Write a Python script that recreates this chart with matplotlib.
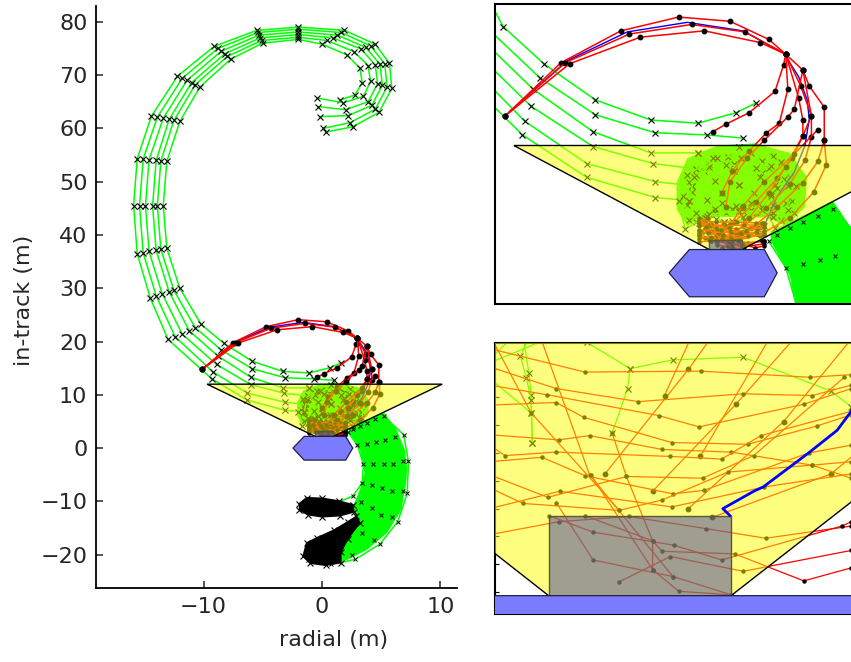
import matplotlib
matplotlib.use("Agg")
import matplotlib.pyplot as plt
from matplotlib.patches import Polygon, Rectangle
from matplotlib.ticker import MultipleLocator

plt.rcParams["font.family"] = ["DejaVu Sans"]

# ---------------- axis settings ----------------
x_ticks = [-10, 0, 10]
y_ticks = [-20, -10, 0, 10, 20, 30, 40, 50, 60, 70, 80]
x_label = "radial (m)"
y_label = "in-track (m)"

# ---------------- geometry ----------------
cone_x = [-9.7, 10.15, 0.19]
cone_y = [12.0, 12.0, 1.38]
hex_x = [-2.45, -1.5, 2.0, 2.6, 2.0, -1.5]
hex_y = [0.0, 2.2, 2.2, 0.0, -2.25, -2.25]
port_x = [-0.57, 0.96]
port_y = [2.2, 3.12]

# ---------------- green spiral trajectories (x markers) ----------------
spiral_0 = [(1.5,65.3),(2.8,66.3),(3.4,68.6),(3.2,71.3),(2.1,73.8),(0.0,75.8),(-2.0,76.7),(-5.0,76.0),(-7.7,73.0),(-10.3,67.8),(-12.0,61.3),(-13.1,53.8),(-13.4,45.5),(-13.1,37.5),(-12.0,30.0),(-10.2,23.2),(-8.3,19.7),(-5.9,16.3),(-3.3,14.4),(-1.1,14.1),(0.7,15.1),(1.6,16.0)]
spiral_1 = [(-0.4,65.7),(1.8,64.8),(3.5,66.0),(4.1,68.8),(3.9,71.8),(2.7,74.4),(0.4,76.5),(-2.0,77.1),(-5.1,76.5),(-8.0,73.5),(-10.7,68.2),(-12.5,61.5),(-13.6,53.9),(-13.9,45.5),(-13.6,37.3),(-12.5,29.6),(-10.7,22.6),(-8.5,18.4),(-5.9,14.9),(-3.1,13.2),(-0.7,13.0),(1.0,12.7)]
spiral_2 = [(-0.3,64.1),(2.0,63.5),(3.9,65.0),(4.7,68.4),(4.5,71.9),(3.3,74.9),(0.9,77.0),(-2.0,77.6),(-5.2,77.0),(-8.2,74.0),(-11.0,68.6),(-12.9,61.7),(-14.0,54.0),(-14.3,45.5),(-14.0,37.1),(-12.9,29.3),(-11.2,22.0),(-8.8,17.3),(-6.0,13.3),(-3.3,11.3),(-1.1,11.3)]
spiral_3 = [(-0.2,62.2),(2.2,62.4),(4.2,64.3),(5.1,68.1),(4.9,72.0),(3.7,75.2),(1.3,77.5),(-2.0,78.1),(-5.3,77.5),(-8.5,74.5),(-11.4,69.0),(-13.4,61.9),(-14.6,54.1),(-14.9,45.5),(-14.6,36.9),(-13.5,29.0),(-11.8,21.4),(-8.9,15.7),(-6.0,11.9),(-3.2,10.3),(-1.2,9.8)]
spiral_4 = [(0.1,60.0),(2.4,61.1),(4.5,63.6),(5.5,67.8),(5.3,72.1),(4.1,75.5),(1.6,78.0),(-2.0,78.6),(-5.4,78.0),(-8.8,75.0),(-11.8,69.4),(-13.9,62.1),(-15.1,54.2),(-15.4,45.5),(-15.1,36.7),(-14.0,28.6),(-12.4,20.9),(-9.2,14.3),(-6.3,10.3),(-3.1,8.6),(-1.4,8.2)]
spiral_5 = [(0.3,59.3),(2.6,60.3),(4.8,63.0),(5.9,67.5),(5.7,72.2),(4.5,75.8),(1.9,78.4),(-2.0,79.0),(-5.5,78.4),(-9.1,75.4),(-12.2,69.8),(-14.4,62.3),(-15.6,54.3),(-15.9,45.5),(-15.6,36.5),(-14.5,28.2),(-13.0,20.4),(-9.3,13.0),(-6.3,9.0),(-3.1,7.1),(-1.5,6.8)]

# ---------------- green loops inside the approach cone ----------------
blob_loop_2 = [(-1.1,11.3),(0.8,11.9),(2.4,11.0),(3.2,9.0),(3.3,6.8),(2.8,5.0),(1.6,5.6),(0.2,5.6),(-1.2,4.8),(-1.6,6.4),(-1.5,8.6),(-0.6,10.3),(0.9,10.8),(2.2,9.9),(2.6,8.0),(2.4,6.4),(1.4,5.9),(0.5,6.0)]
blob_loop_3 = [(-1.2,9.8),(0.3,10.9),(1.9,10.5),(2.9,8.8),(3.0,6.6),(2.4,5.6),(1.0,5.8),(-0.3,5.7),(-1.2,5.6),(-1.4,7.6),(-0.8,9.6),(0.6,10.3),(1.9,9.4),(2.3,7.4),(1.9,6.2),(0.9,6.2)]
blob_loop_4 = [(-1.4,8.2),(-0.6,10.0),(0.9,10.8),(2.3,10.1),(3.1,8.2),(3.1,5.9),(2.5,4.2),(2.2,5.4),(0.8,5.8),(-0.6,5.5),(-1.5,5.0),(-1.8,7.2),(-1.2,9.2),(0.2,10.2),(1.6,9.9),(2.5,8.3)]
blob_loop_5 = [(-1.5,6.8),(-1.3,9.0),(-0.2,10.8),(1.4,11.3),(2.8,10.4),(3.5,8.2),(3.4,5.6),(2.4,5.3),(1.0,5.3),(-0.7,5.4),(-1.7,4.1),(-2.0,6.8),(-1.6,9.2),(-0.4,10.8)]
blob_loop_a = [(0.6,9.6),(1.8,9.0),(2.3,7.2),(1.9,5.9),(0.8,5.7),(-0.3,6.0),(-0.7,6.9),(-0.3,8.7),(0.6,9.6)]
blob_loop_b = [(0.8,8.3),(1.5,7.5),(1.4,6.6),(0.7,6.3),(0.0,6.6),(0.0,7.5),(0.8,8.3)]
blob_fill = [(-2.1,8.5),(-1.6,10.8),(-0.2,12.0),(1.6,12.2),(3.2,11.3),(4.0,9.0),(3.9,6.2),(3.0,4.4),(2.1,5.3),(0.5,5.4),(-1.0,5.3),(-1.6,4.4),(-2.1,6.0)]

# ---------------- red loop trajectories (dot markers) ----------------
red_0 = [(-10.1,14.8),(-7.5,19.8),(-4.7,22.8),(-2.0,24.1),(0.4,23.7),(2.2,22.0),(3.0,20.6),(3.8,19.1),(4.1,17.6),(4.8,15.6),(4.8,12.5),(4.5,10.5),(3.8,8.5),(2.6,6.2),(1.4,4.2),(0.6,3.2)]
red_1 = [(-10.1,14.8),(-7.3,19.8),(-4.3,22.5),(-1.4,23.4),(1.1,22.7),(3.0,20.6),(3.7,17.6),(4.2,14.8),(4.2,12.8),(3.9,10.6),(3.2,8.4),(2.1,6.1),(1.0,4.4),(0.3,3.4)]
red_2 = [(-10.1,14.8),(-7.1,19.7),(-3.8,22.2),(-0.8,22.8),(1.8,21.7),(3.0,20.6),(3.6,16.5),(3.8,14.4),(3.8,12.9),(3.3,10.8),(2.6,8.9),(1.6,6.7),(0.6,4.8),(-0.1,3.6)]
red_3 = [(3.0,20.6),(2.9,19.6),(2.5,17.1),(1.3,15.1),(0.2,14.0),(-0.4,13.3)]
red_4 = [(3.0,20.6),(3.1,17.3),(2.7,14.1),(2.1,13.2),(1.3,11.5),(0.5,9.6),(0.0,7.5)]
red_5 = [(3.8,19.1),(3.4,15.4),(3.1,14.7),(2.0,12.5),(1.2,10.8),(0.4,8.6),(0.2,6.2)]
red_6 = [(3.8,19.1),(4.2,14.8),(3.8,12.9),(3.0,10.0),(2.2,7.5),(1.3,5.2),(0.7,3.8)]
red_7 = [(4.8,12.5),(4.9,10.2),(4.3,7.6),(3.2,5.2),(1.8,3.6),(0.8,3.1)]
red_8 = [(4.5,13.5),(3.4,11.2),(2.0,8.6),(1.0,6.3),(0.4,4.5)]
blue_path = [(-9.9,15.2),(-7.2,20.0),(-4.4,22.7),(-1.6,23.6),(1.0,22.8),(2.9,20.7),(3.6,18.5),(4.0,16.3),(4.1,14.5),(3.9,12.0),(3.4,9.5),(2.6,7.2),(1.97,4.32),(1.85,4.10),(1.61,3.84),(1.23,3.45),(1.15,3.40),(0.89,3.20),(0.95,3.12)]

# ---------------- terminal approach (close-up) trajectories ----------------
term_0 = [(-1.07,5.04),(-0.27,4.77),(0.71,4.78),(1.62,4.71),(1.97,4.74)]
term_1 = [(-1.07,4.83),(-0.51,4.58),(0.18,4.43),(1.06,4.52),(1.64,4.50),(1.97,4.62)]
term_2 = [(-1.07,4.62),(-0.59,4.51),(0.35,4.27),(0.69,4.14),(1.57,4.40),(1.97,4.58)]
term_3 = [(-1.07,4.39),(-0.51,4.42),(-0.28,4.25),(0.46,3.96),(1.10,3.94),(1.68,4.15),(1.97,4.28)]
term_4 = [(-1.07,4.05),(-0.49,3.99),(-0.23,4.04),(0.38,3.88),(0.96,3.85),(1.64,3.70),(1.97,3.74)]
term_5 = [(-1.07,3.93),(-0.94,3.81),(-0.51,3.85),(0.45,3.80),(0.88,3.77),(1.21,4.04),(1.97,4.32)]
term_6 = [(-1.07,3.74),(-0.63,3.79),(-0.27,3.58),(0.47,3.37),(0.73,3.41),(1.61,3.84),(1.97,3.93)]
term_7 = [(-1.07,3.59),(-0.58,3.33),(0.08,3.57),(0.72,3.55),(1.15,3.81),(1.91,4.71)]
term_8 = [(-1.07,3.44),(-0.79,3.26),(0.02,3.18),(0.38,3.30),(0.93,3.62),(1.64,3.70),(1.97,3.55)]
term_9 = [(-1.07,3.20),(-0.48,3.40),(0.46,3.22),(1.24,3.45),(1.97,3.60)]
term_10 = [(-1.07,2.90),(-0.49,3.05),(0.10,3.11),(0.75,2.97),(1.25,2.86),(1.97,3.00)]
term_11 = [(-0.57,3.12),(-0.20,2.93),(0.48,2.78),(0.88,2.61),(1.89,3.00),(1.97,3.05)]
term_12 = [(-0.51,3.27),(-0.20,2.61),(0.47,2.42),(0.96,2.21)]
term_13 = [(-0.27,3.12),(0.30,2.83),(0.38,2.71),(0.99,2.68),(1.57,2.37),(1.97,2.52)]
term_14 = [(-0.22,3.59),(0.30,2.50),(0.52,2.25),(0.96,2.21)]
term_15 = [(0.02,2.36),(0.45,2.65),(1.06,2.48),(1.97,2.72)]
term_16 = [(-0.04,4.07),(0.08,3.57),(0.30,2.83),(0.30,2.50)]
term_17 = [(-0.65,5.20),(-0.23,3.59),(0.47,2.42)]
term_18 = [(-1.07,5.20),(-0.72,4.30),(0.02,3.18)]
term_green_0 = [(-0.79,5.20),(-0.74,4.76),(-0.72,4.51),(-0.72,4.30),(-0.71,3.95)]
term_green_1 = [(-0.73,5.20),(-0.81,4.95),(-0.76,4.70),(-0.72,4.45),(-0.71,3.95)]
term_green_2 = [(-1.07,4.70),(-0.72,4.30)]
term_green_3 = [(-0.25,5.11),(0.11,4.81),(0.47,4.91),(1.06,4.94),(1.80,4.55),(1.97,4.37)]
term_green_4 = [(0.11,4.81),(0.09,4.58),(-0.04,4.07)]

# ---------------- departing fan (green, x markers) ----------------
fan_0 = [(2.2,3.0),(3.0,0.5),(3.5,-3.0),(3.4,-6.5),(2.6,-9.0),(1.2,-10.3),(-0.5,-10.6),(-1.6,-10.5)]
fan_1 = [(2.6,3.6),(3.8,0.8),(4.3,-3.0),(4.2,-7.0),(3.3,-10.2),(1.8,-12.0),(0.0,-12.2),(-1.4,-11.8)]
fan_2 = [(3.2,4.2),(4.6,1.2),(5.2,-3.0),(5.1,-7.5),(4.2,-11.2),(2.6,-14.0),(0.8,-16.5),(-0.5,-17.5),(-1.3,-19.0)]
fan_3 = [(3.8,4.8),(5.3,1.6),(6.0,-3.0),(5.9,-8.0),(5.0,-12.5),(3.4,-16.0),(1.6,-18.4),(0.0,-19.3),(-1.0,-19.6)]
fan_4 = [(4.5,5.4),(6.2,2.0),(6.8,-2.5),(6.8,-8.0),(5.9,-13.0),(4.4,-17.2),(2.5,-20.0),(0.8,-21.0),(-0.8,-20.8)]
fan_5 = [(5.2,6.0),(6.9,2.5),(7.3,-2.5),(7.2,-8.5),(6.4,-13.8),(4.9,-18.0),(2.8,-20.9),(0.8,-21.8),(-1.2,-21.0)]
fan_band = [(2.3,3.9),(5.2,6.8),(6.3,3.5),(7.0,-0.3),(7.2,-4.0),(7.1,-6.6),(6.7,-11.6),(5.5,-15.9),(3.8,-19.1),(2.1,-21.0),(0.7,-21.6),(-0.5,-20.5),(-0.7,-17.8),(2.9,-13.5),(2.6,-11.0),(3.2,-7.8),(3.6,-4.7),(3.2,-0.3),(2.3,3.0)]
end_cluster_upper = [(-1.9,-10.4),(-1.3,-9.3),(0.0,-9.4),(1.4,-9.9),(2.6,-10.6),(2.7,-12.0),(1.5,-12.7),(0.0,-12.9),(-1.2,-12.5),(-1.9,-11.6)]
end_cluster_lower = [(-1.3,-17.8),(-0.4,-16.8),(1.0,-15.4),(2.2,-13.8),(2.9,-12.8),(3.2,-14.0),(2.2,-17.0),(1.6,-19.5),(1.6,-21.5),(0.3,-22.0),(-1.0,-21.6),(-1.6,-20.3)]

spiral_lines = [spiral_0, spiral_1, spiral_2 + blob_loop_2, spiral_3 + blob_loop_3,
                spiral_4 + blob_loop_4, spiral_5 + blob_loop_5, blob_loop_a, blob_loop_b]
red_lines = [red_0, red_1, red_2, red_3, red_4, red_5, red_6, red_7, red_8]
term_red = [term_0, term_1, term_2, term_3, term_4, term_5, term_6, term_7, term_8, term_9,
            term_10, term_11, term_12, term_13, term_14, term_15, term_16, term_17, term_18]
term_green = [term_green_0, term_green_1, term_green_2, term_green_3, term_green_4]
fan_lines = [fan_0, fan_1, fan_2, fan_3, fan_4, fan_5]

GREEN = (0.0, 1.0, 0.0)
RED = (1.0, 0.0, 0.0)


def xs(pts):
    return [p[0] for p in pts]


def ys(pts):
    return [p[1] for p in pts]


def draw_scene(ax, detail=False):
    lw = 1.1 if not detail else 0.9
    # filled dense areas
    ax.add_patch(Polygon(fan_band, closed=True, facecolor=GREEN, edgecolor="none", zorder=1))
    ax.add_patch(Polygon(blob_fill, closed=True, facecolor=GREEN, edgecolor="none",
                         alpha=0.95, zorder=1))
    for pts in fan_lines:
        ax.plot(xs(pts), ys(pts), color=GREEN, lw=lw, marker="x", ms=3.5, mec="k",
                mew=0.7, zorder=1.5)
    for pts in (end_cluster_upper, end_cluster_lower):
        ax.add_patch(Polygon(pts, closed=True, facecolor="k", edgecolor="k", lw=1.0, zorder=1.6))
        ax.plot(xs(pts), ys(pts), ls="none", marker="x", ms=4, mec="k", mew=0.8, zorder=1.6)
    for pts in spiral_lines:
        ax.plot(xs(pts), ys(pts), color=GREEN, lw=lw, marker="x", ms=5, mec="k",
                mew=0.8, zorder=2)
    for pts in term_green:
        ax.plot(xs(pts), ys(pts), color=GREEN, lw=lw, marker="x", ms=5, mec="k",
                mew=0.8, zorder=2)
    ax.plot(xs(blue_path), ys(blue_path), color="blue", lw=1.0 if not detail else 2.0,
            zorder=2.05 if not detail else 6)
    for pts in red_lines:
        ax.plot(xs(pts), ys(pts), color=RED, lw=lw, marker="o", ms=3.2, mfc="k", mec="k",
                zorder=2.1)
    for pts in term_red:
        ax.plot(xs(pts), ys(pts), color=RED, lw=lw, marker="o", ms=2.2, mfc="k", mec="k",
                zorder=2.1)
    # approach cone
    cone = list(zip(cone_x, cone_y))
    ax.add_patch(Polygon(cone, closed=True, facecolor=(1, 1, 0, 0.5), edgecolor="none", zorder=3))
    ax.add_patch(Polygon(cone, closed=True, fill=False, edgecolor="k", lw=1.0, zorder=3.1))
    # docking port box
    ax.add_patch(Rectangle((port_x[0], port_y[0]), port_x[1] - port_x[0], port_y[1] - port_y[0],
                           facecolor=(65/255, 62/255, 162/255, 0.5),
                           edgecolor=(0.35, 0.35, 0.2), lw=1.0, zorder=4))
    # chaser / target hexagon
    ax.add_patch(Polygon(list(zip(hex_x, hex_y)), closed=True, facecolor="#7b7bff",
                         edgecolor="#202040", lw=0.9, zorder=5))


fig = plt.figure(figsize=(8.51, 6.62), dpi=100)

# ---------------- main axes ----------------
ax = fig.add_axes([0.1125, 0.1122, 0.4245, 0.879])
draw_scene(ax)
ax.set_xlim(-19.1, 11.4)
ax.set_ylim(-26.2, 83.0)
ax.set_xticks(x_ticks)
ax.set_yticks(y_ticks)
for s in ("top", "right"):
    ax.spines[s].set_visible(False)
for s in ("left", "bottom"):
    ax.spines[s].set_linewidth(1.3)
ax.tick_params(direction="in", length=5, width=1.1, labelsize=16, colors="#262626")
ax.tick_params(axis="x", pad=7)
ax.tick_params(axis="y", pad=6)
ax.set_xlabel(x_label, fontsize=16, color="#262626")
ax.set_ylabel(y_label, fontsize=16, color="#262626")
ax.xaxis.set_label_coords(0.657, -0.072)
ax.yaxis.set_label_coords(-0.17, 0.494)

# ---------------- top inset ----------------
ax2 = fig.add_axes([0.5817, 0.5408, 0.4407, 0.4527])
draw_scene(ax2)
ax2.set_xlim(-10.58, 6.94)
ax2.set_ylim(-2.93, 25.3)
ax2.set_xticks([])
ax2.set_yticks([])
for s in ax2.spines.values():
    s.set_linewidth(1.5)

# ---------------- bottom inset ----------------
ax3 = fig.add_axes([0.5817, 0.0730, 0.4407, 0.4085])
draw_scene(ax3, detail=True)
ax3.set_xlim(-1.024, 2.127)
ax3.set_ylim(1.993, 5.101)
ax3.set_xticks([])
ax3.yaxis.set_major_locator(MultipleLocator(0.32))
ax3.tick_params(axis="y", direction="in", length=3, width=0.8, labelleft=False)
for s in ax3.spines.values():
    s.set_linewidth(1.5)

fig.savefig("out.png", dpi=100)
